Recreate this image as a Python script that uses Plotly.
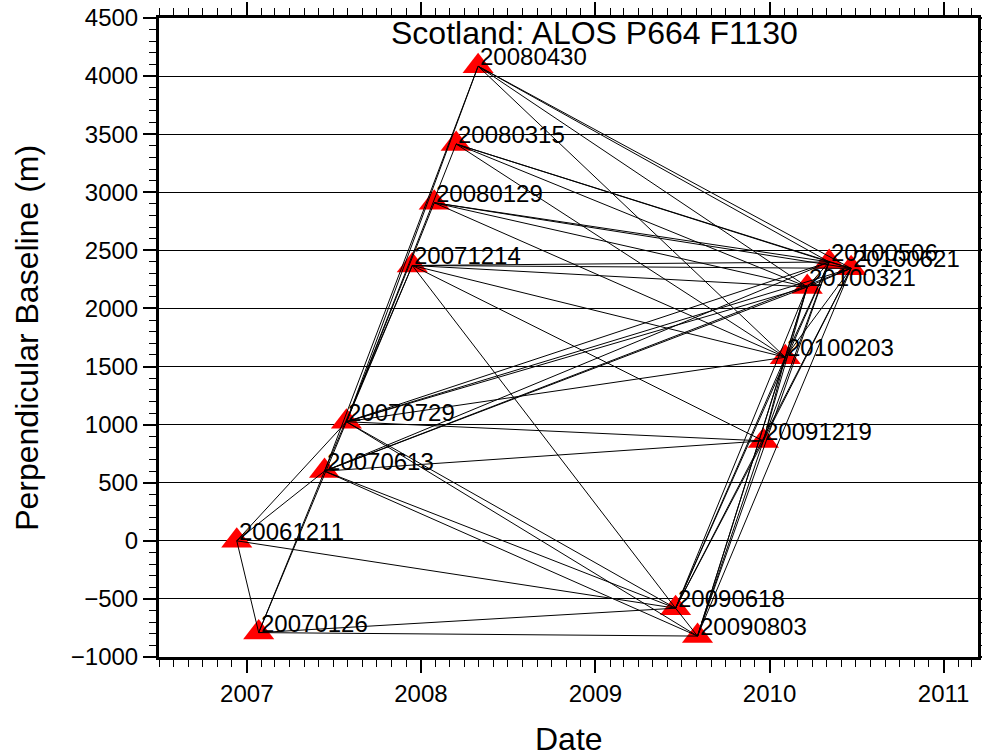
import plotly.graph_objects as go
from datetime import datetime

# ---- data ----
dates = ["20061211", "20070126", "20070613", "20070729", "20071214",
         "20080129", "20080315", "20080430", "20090618", "20090803",
         "20091219", "20100203", "20100321", "20100506", "20100621"]
bperp = [0, -790, 600, 1025, 2370,
         2910, 3415, 4085, -580, -820,
         860, 1580, 2185, 2400, 2345]

pairs = [
    ("20061211", "20070126"), ("20061211", "20070613"), ("20061211", "20070729"),
    ("20070126", "20070613"), ("20070126", "20070729"),
    ("20070613", "20071214"), ("20070613", "20080430"),
    ("20070729", "20071214"), ("20070729", "20080129"), ("20070729", "20080315"),
    ("20070729", "20080430"),
    ("20061211", "20090618"), ("20070126", "20090618"), ("20070126", "20090803"),
    ("20070613", "20090618"), ("20070613", "20090803"),
    ("20070729", "20090618"), ("20070729", "20090803"),
    ("20071214", "20090618"),
    ("20070613", "20091219"), ("20070613", "20100321"), ("20070613", "20100506"),
    ("20070613", "20100621"),
    ("20070729", "20091219"), ("20070729", "20100203"), ("20070729", "20100321"),
    ("20070729", "20100506"), ("20070729", "20100621"),
    ("20071214", "20091219"), ("20071214", "20100203"), ("20071214", "20100321"),
    ("20071214", "20100506"), ("20071214", "20100621"),
    ("20080129", "20100203"), ("20080129", "20100321"), ("20080129", "20100506"),
    ("20080129", "20100621"),
    ("20080315", "20100203"), ("20080315", "20100321"), ("20080315", "20100506"),
    ("20080315", "20100621"),
    ("20080430", "20100203"), ("20080430", "20100321"), ("20080430", "20100506"),
    ("20080430", "20100621"),
    ("20090618", "20090803"), ("20090618", "20091219"), ("20090618", "20100203"),
    ("20090618", "20100321"), ("20090618", "20100506"), ("20090618", "20100621"),
    ("20090803", "20091219"), ("20090803", "20100203"), ("20090803", "20100321"),
    ("20090803", "20100506"), ("20090803", "20100621"),
    ("20091219", "20100203"), ("20091219", "20100321"), ("20091219", "20100506"),
    ("20091219", "20100621"),
    ("20100203", "20100321"), ("20100203", "20100506"), ("20100203", "20100621"),
    ("20100321", "20100506"), ("20100321", "20100621"), ("20100506", "20100621"),
]

title_text = "Scotland: ALOS P664 F1130"
x_title = "Date"
y_title = "Perpendicular Baseline (m)"

# ---- build ----
def todate(s):
    return datetime.strptime(s, "%Y%m%d")

xd = [todate(d) for d in dates]
lookup = {d: (todate(d), b) for d, b in zip(dates, bperp)}

lx, ly = [], []
for a, b in pairs:
    lx += [lookup[a][0], lookup[b][0], None]
    ly += [lookup[a][1], lookup[b][1], None]

FONT = "Liberation Sans, Arial, Helvetica, sans-serif"

fig = go.Figure()
fig.add_trace(go.Scatter(x=xd, y=bperp, mode="markers",
                         marker=dict(symbol="triangle-up", size=27, color="red",
                                     line=dict(width=0)),
                         hoverinfo="skip", showlegend=False))
fig.add_trace(go.Scatter(x=lx, y=ly, mode="lines",
                         line=dict(color="black", width=1),
                         hoverinfo="skip", showlegend=False))

for d, x, y in zip(dates, xd, bperp):
    fig.add_annotation(x=x, y=y, xref="x", yref="y", text=d, showarrow=False,
                       xanchor="left", yanchor="bottom", xshift=0, yshift=-6,
                       font=dict(family=FONT, size=24, color="black"))

fig.add_annotation(text=title_text, xref="paper", yref="paper", x=0.532, y=0.945,
                   xanchor="center", yanchor="bottom", showarrow=False,
                   font=dict(family=FONT, size=32, color="black"))
fig.add_annotation(text=x_title, xref="paper", yref="paper", x=0.5, y=-0.128,
                   xanchor="center", yanchor="middle", showarrow=False,
                   font=dict(family=FONT, size=32, color="black"))
fig.add_annotation(text=y_title, xref="paper", yref="paper", x=-0.162, y=0.5,
                   xanchor="center", yanchor="middle", showarrow=False, textangle=-90,
                   font=dict(family=FONT, size=32, color="black"))

fig.update_layout(
    width=982, height=755,
    margin=dict(l=159, r=4, t=18, b=98, autoexpand=False),
    paper_bgcolor="white", plot_bgcolor="white",
    font=dict(family=FONT, size=24, color="black"),
    showlegend=False,
)
fig.update_xaxes(
    type="date", range=["2006-07-01", "2011-03-14"], automargin=False,
    tick0="2007-01-01", dtick="M12", tickformat="%Y",
    ticks="outside", ticklen=13, tickwidth=1.5, tickcolor="black",
    showline=True, linewidth=3, linecolor="black", mirror="ticks",
    showgrid=False, zeroline=False,
    minor=dict(dtick="M1", ticks="outside", ticklen=7, tickwidth=1.2,
               tickcolor="black", showgrid=False),
    tickfont=dict(family=FONT, size=24, color="black"),
)
fig.update_yaxes(
    range=[-1000, 4500], tick0=0, dtick=500, automargin=False,
    ticks="outside", ticklen=13, tickwidth=1.5, tickcolor="black",
    showline=True, linewidth=3, linecolor="black", mirror="ticks",
    showgrid=True, gridcolor="black", gridwidth=1, zeroline=False,
    minor=dict(dtick=100, ticks="outside", ticklen=7, tickwidth=1.2,
               tickcolor="black", showgrid=False),
    tickfont=dict(family=FONT, size=24, color="black"),
)

fig.write_html("out.html")
